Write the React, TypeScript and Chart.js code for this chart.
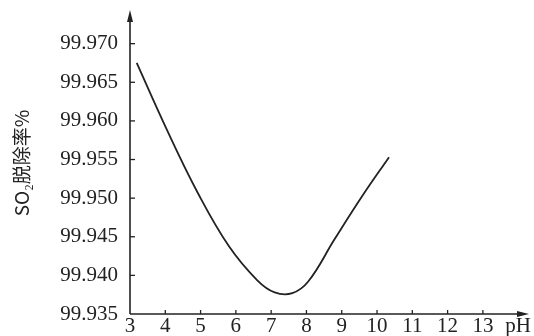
import React, { useEffect, useRef } from "react";
import { Chart, registerables } from "chart.js";

Chart.register(...registerables);

const phValues = [3.19, 4.05, 4.93, 5.8, 6.6, 7.1, 7.6, 8.05, 8.8, 9.6, 10.34];
const removalRate = [99.9675, 99.9588, 99.9506, 99.9438, 99.9394, 99.9378, 99.9377, 99.9392, 99.9447, 99.9504, 99.9553];
const xTicks = [3, 4, 5, 6, 7, 8, 9, 10, 11, 12, 13, 14];
const yTicks = [99.935, 99.94, 99.945, 99.95, 99.955, 99.96, 99.965, 99.97];
const yTitle = "SO₂脱除率%";
const xUnit = "pH";

const INK = "#222";

const axesPlugin = {
  id: "axesArrows",
  afterDraw(chart: any) {
    const ctx = chart.ctx;
    const { left, right, top, bottom } = chart.chartArea;
    const xs = chart.scales.x;
    const ys = chart.scales.y;
    ctx.save();
    ctx.strokeStyle = INK;
    ctx.fillStyle = INK;
    ctx.lineWidth = 1.6;
    ctx.beginPath();
    ctx.moveTo(left, bottom);
    ctx.lineTo(left, top + 2);
    ctx.stroke();
    ctx.beginPath();
    ctx.moveTo(left, top - 2);
    ctx.lineTo(left - 3, top + 10);
    ctx.lineTo(left + 3, top + 10);
    ctx.closePath();
    ctx.fill();
    ctx.beginPath();
    ctx.moveTo(left, bottom);
    ctx.lineTo(right - 2, bottom);
    ctx.stroke();
    ctx.beginPath();
    ctx.moveTo(right + 2, bottom);
    ctx.lineTo(right - 10, bottom - 3);
    ctx.lineTo(right - 10, bottom + 3);
    ctx.closePath();
    ctx.fill();
    ctx.lineWidth = 1.3;
    xTicks.forEach((v) => {
      if (v <= 3 || v > 13) return;
      const px = xs.getPixelForValue(v);
      ctx.beginPath();
      ctx.moveTo(px, bottom);
      ctx.lineTo(px, bottom - 4);
      ctx.stroke();
    });
    yTicks.forEach((v) => {
      if (v <= 99.935) return;
      const py = ys.getPixelForValue(v);
      ctx.beginPath();
      ctx.moveTo(left, py);
      ctx.lineTo(left + 5, py);
      ctx.stroke();
    });
    ctx.restore();
  },
};

const zeroPad = (s: any) => {
  s.paddingTop = 0;
  s.paddingBottom = 0;
  s.paddingLeft = 0;
  s.paddingRight = 0;
};

export default function App() {
  const ref = useRef<HTMLCanvasElement>(null);
  useEffect(() => {
    document.body.style.margin = "0";
    const chart = new Chart(ref.current as HTMLCanvasElement, {
      type: "line",
      data: {
        datasets: [
          {
            data: phValues.map((x, i) => ({ x, y: removalRate[i] })),
            borderColor: INK,
            borderWidth: 1.8,
            pointRadius: 0,
            tension: 0.4,
            fill: false,
          },
        ],
      },
      options: {
        animation: false,
        responsive: false,
        maintainAspectRatio: false,
        layout: { padding: { top: 12, right: 7, left: 0, bottom: 0 } },
        plugins: { legend: { display: false }, tooltip: { enabled: false } },
        scales: {
          x: {
            type: "linear",
            min: 3,
            max: 14.25,
            afterBuildTicks: (s: any) => {
              s.ticks = xTicks.map((v) => ({ value: v }));
            },
            afterFit: (s: any) => {
              s.height = 22;
              zeroPad(s);
            },
            grid: { display: false, drawTicks: false },
            border: { display: false },
            ticks: {
              autoSkip: false,
              maxRotation: 0,
              padding: 0,
              color: INK,
              font: { family: "Liberation Serif", size: 21 },
              callback: (v: any) => (v === 14 ? xUnit : String(v)),
            },
          },
          y: {
            type: "linear",
            min: 99.935,
            max: 99.9741,
            afterBuildTicks: (s: any) => {
              s.ticks = yTicks.map((v) => ({ value: v }));
            },
            afterFit: (s: any) => {
              s.width = 130;
              zeroPad(s);
            },
            grid: { display: false, drawTicks: false },
            border: { display: false },
            ticks: {
              autoSkip: false,
              padding: 12,
              color: INK,
              font: { family: "Liberation Serif", size: 21 },
              callback: (v: any) => Number(v).toFixed(3),
            },
            title: {
              display: true,
              text: yTitle,
              color: INK,
              font: { family: "Noto Sans CJK SC", size: 19 },
              padding: { top: 10, bottom: 0 },
            },
          },
        },
      },
      plugins: [axesPlugin],
    } as any);
    return () => chart.destroy();
  }, []);
  return <canvas ref={ref} width={534} height={336} style={{ display: "block" }} />;
}
